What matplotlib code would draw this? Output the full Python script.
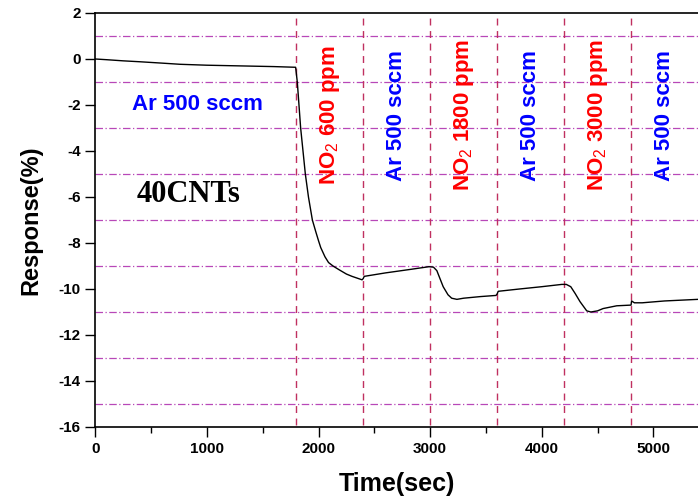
import matplotlib
matplotlib.use("Agg")
import matplotlib.pyplot as plt
from matplotlib.ticker import MultipleLocator

# -------------------------------
# data
# -------------------------------
time_sec = [0, 100, 250, 400, 600, 760, 1000, 1200, 1400, 1600, 1795, 1810,
            1840, 1882, 1910, 1945, 1975, 2000, 2020, 2058, 2090, 2130, 2180,
            2250, 2300, 2390, 2400, 2410, 2600, 2820, 2990, 3030, 3060,
            3117, 3160, 3193, 3240, 3300, 3450, 3590, 3600, 3610, 3800, 4000,
            4180, 4220, 4260, 4300, 4343, 4403, 4440, 4500, 4550, 4672, 4800,
            4805, 4830, 4900, 5100, 5400]
response = [0.0, -0.03, -0.08, -0.12, -0.18, -0.23, -0.27, -0.29, -0.31,
            -0.33, -0.36, -1.0, -3.0, -5.0, -6.0, -7.0, -7.5, -7.9, -8.2,
            -8.6, -8.85, -9.0, -9.15, -9.35, -9.45, -9.6, -9.55, -9.45, -9.3,
            -9.15, -9.03, -9.05, -9.2, -9.9, -10.25, -10.4, -10.45, -10.4,
            -10.33, -10.28, -10.22, -10.1, -10.0, -9.9, -9.8, -9.8, -9.9,
            -10.2, -10.55, -10.95, -11.0, -10.95, -10.85, -10.73, -10.7,
            -10.52, -10.6, -10.6, -10.52, -10.45]

switch_times = [1800, 2400, 3000, 3600, 4200, 4800]
gas_labels = ["NO$_2$ 600 ppm", "Ar 500 sccm", "NO$_2$ 1800 ppm",
              "Ar 500 sccm", "NO$_2$ 3000 ppm", "Ar 500 sccm"]
gas_colors = ["red", "blue", "red", "blue", "red", "blue"]
grid_levels = [1, -1, -3, -5, -7, -9, -11, -13, -15]

plt.rcParams["font.family"] = ["Liberation Sans", "DejaVu Sans"]
plt.rcParams["mathtext.fontset"] = "custom"
plt.rcParams["mathtext.rm"] = "Liberation Sans"
plt.rcParams["mathtext.it"] = "Liberation Sans"
plt.rcParams["mathtext.bf"] = "Liberation Sans:bold"
plt.rcParams["axes.unicode_minus"] = False

fig = plt.figure(figsize=(6.98, 5.0), dpi=100)
ax = fig.add_axes([0.1365, 0.146, 0.8635, 0.828])

# grid-like reference lines
for lv in grid_levels:
    ax.axhline(lv, color="#b848b8", linestyle="-.", linewidth=0.9, dashes=(6, 2, 1, 2))
for t in switch_times:
    ax.axvline(t, ymin=0.005, ymax=1.0, color="#c03060", linestyle="--",
               linewidth=1.0, dashes=(5, 4))

# response curve
ax.plot(time_sec, response, color="black", linewidth=1.0)

# annotations
ax.text(911, -1.96, "Ar 500 sccm", color="blue", fontsize=16, fontweight="bold",
        ha="center", va="center")
ax.text(832, -5.9, "40CNTs", color="black", fontsize=22, fontweight="bold",
        family="Liberation Serif", ha="center", va="center")
for i, lab in enumerate(gas_labels):
    ax.text(switch_times[i] + 300, -2.45, lab, color=gas_colors[i], fontsize=16,
            fontweight="bold", rotation=90, ha="center", va="center")

ax.set_xlim(0, 5400)
ax.set_ylim(-16, 2)
ax.xaxis.set_major_locator(MultipleLocator(1000))
ax.xaxis.set_minor_locator(MultipleLocator(500))
ax.yaxis.set_major_locator(MultipleLocator(2))
ax.tick_params(axis="both", which="major", direction="out", length=7, width=1,
               labelsize=11)
ax.tick_params(axis="x", which="minor", direction="out", length=4, width=1)
for lab in ax.get_xticklabels() + ax.get_yticklabels():
    lab.set_fontweight("bold")

ax.spines["right"].set_visible(False)
for s in ["left", "bottom", "top"]:
    ax.spines[s].set_linewidth(1.2)

ax.set_xlabel("Time(sec)", fontsize=18, fontweight="bold", labelpad=12)
ax.set_ylabel("Response(%)", fontsize=17, fontweight="bold", labelpad=12)

fig.savefig("out.png", dpi=100)
